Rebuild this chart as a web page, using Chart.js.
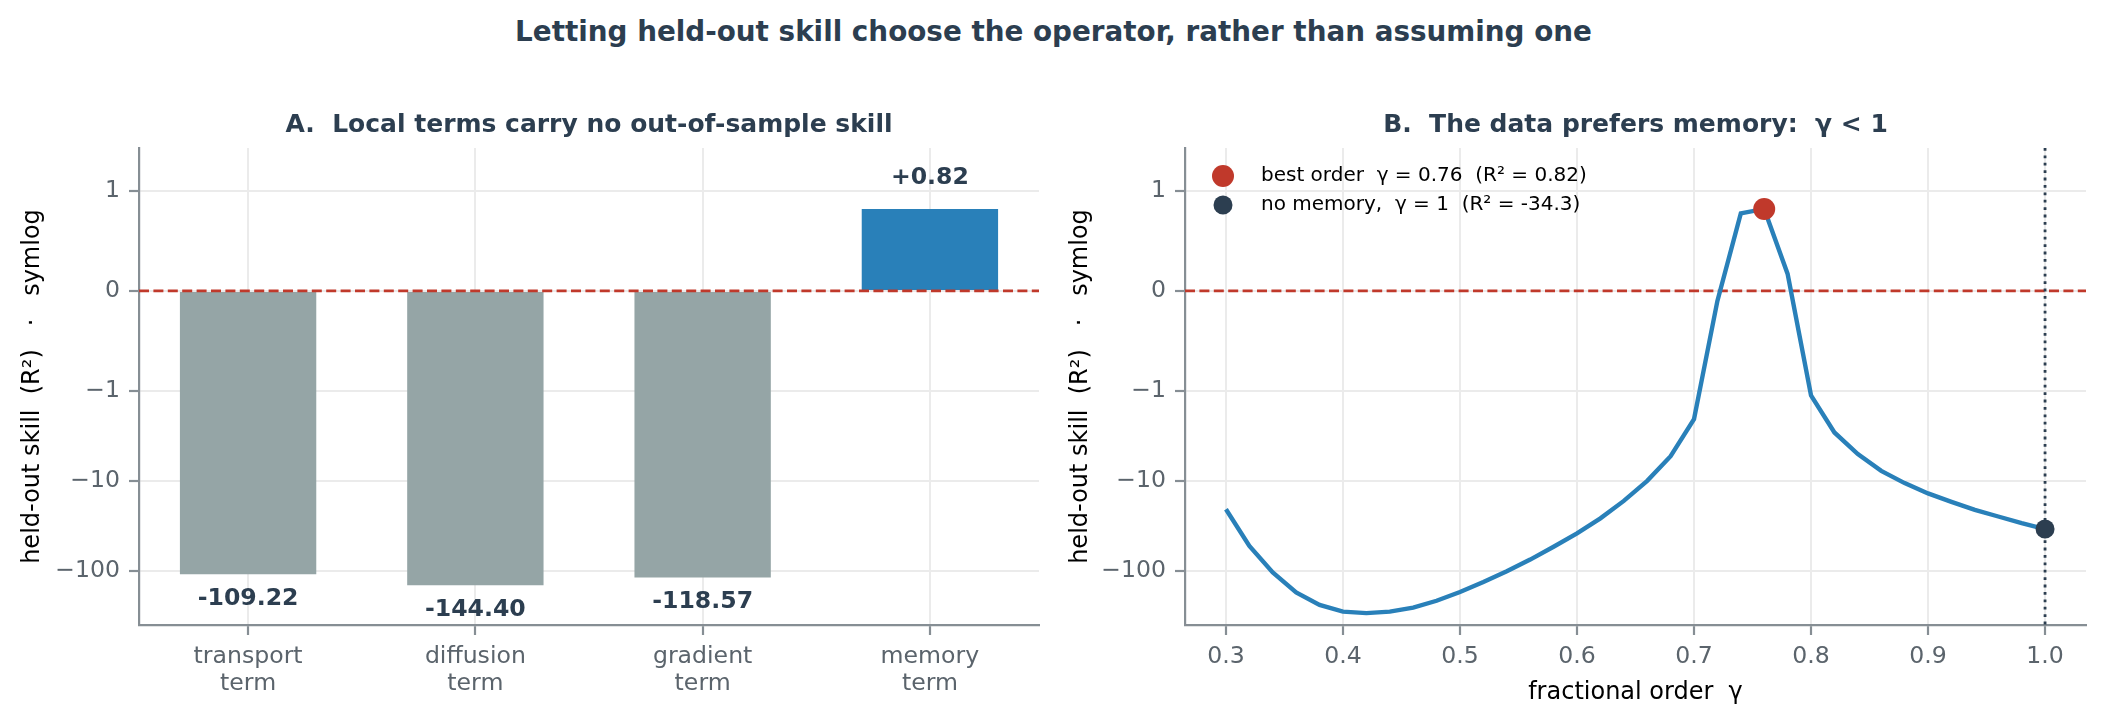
<!DOCTYPE html>
<html>
<head>
<meta charset="utf-8">
<script src="https://cdn.jsdelivr.net/npm/chart.js@4.4.1/dist/chart.umd.min.js"></script>
<style>
html, body { margin: 0; padding: 0; background: #fff; }
#fig { position: relative; width: 2107px; height: 724px; overflow: hidden; }
#suptitle { position: absolute; left: 0; top: 15px; width: 2107px; text-align: center;
  font: bold 27.8px 'DejaVu Sans'; color: #2c3e50; line-height: 34px; }
canvas { position: absolute; top: 0; }
</style>
</head>
<body>
<div id="fig">
  <div id="suptitle">Letting held-out skill choose the operator, rather than assuming one</div>
  <canvas id="panelA" width="1050" height="724" style="left:0px"></canvas>
  <canvas id="panelB" width="1057" height="724" style="left:1050px"></canvas>
</div>
<script>
// panel A: held-out R² of each single term
const termNames = ['transport term', 'diffusion term', 'gradient term', 'memory term'];
const termSkill = [-109.22, -144.40, -118.57, 0.82];

// panel B: held-out R² against fractional order
const gammaGrid = [0.30, 0.32, 0.34, 0.36, 0.38, 0.40, 0.42, 0.44, 0.46, 0.48,
                   0.50, 0.52, 0.54, 0.56, 0.58, 0.60, 0.62, 0.64, 0.66, 0.68,
                   0.70, 0.72, 0.74, 0.76, 0.78, 0.80, 0.82, 0.84, 0.86, 0.88,
                   0.90, 0.92, 0.94, 0.96, 0.98, 1.00];
const gammaSkill = [-20.7, -53, -104, -174, -239, -284, -295, -284, -256, -215,
                    -172, -133, -101, -75, -54, -38.4, -26.1, -16.7, -10.0, -5.33,
                    -2.06, -0.10, 0.775, 0.82, 0.17, -1.12, -2.90, -5.05, -7.74, -10.6,
                    -13.8, -17.1, -21.0, -24.9, -29.5, -34.3];

// highlighted points: best order, no memory
const markerGamma = [0.76, 1.0];
const markerSkill = [0.82, -34.3];
const markerLabels = ['best order  γ = 0.76  (R² = 0.82)', 'no memory,  γ = 1  (R² = -34.3)'];

const yTickValues = [-100, -10, -1, 0, 1];
const xTickValues = [0.3, 0.4, 0.5, 0.6, 0.7, 0.8, 0.9, 1.0];
const yLimits = [-400, 3];

const INK = '#2c3e50', RED = '#c0392b', BLUE = '#2980b9', GREY = '#95a5a6';
const GRID = '#ebebeb', SPINE = '#868e94', TICK = '#5b646c';
const FONT = "'DejaVu Sans'";

// matplotlib-style symlog, linthresh 1, linscale 1
const LIN_ADJ = 1 / (1 - 1 / 10);
const symlog = v => Math.abs(v) <= 1 ? v * LIN_ADJ : Math.sign(v) * (LIN_ADJ + Math.log10(Math.abs(v)));
const fmtTick = v => (v < 0 ? '\u2212' : '') + Math.abs(v);

Chart.defaults.font.family = FONT;
Chart.defaults.animation = false;

function yAxis(axisWidth, titlePad) {
    return {
        type: 'linear',
        min: symlog(yLimits[0]),
        max: symlog(yLimits[1]),
        afterBuildTicks: s => { s.ticks = yTickValues.map(v => ({ value: symlog(v) })); },
        afterFit: s => { s.width = axisWidth; },
        ticks: { callback: (val, i) => fmtTick(yTickValues[i]), color: TICK, font: { size: 23.6 }, padding: 9 },
        grid: { color: GRID, lineWidth: 2, tickLength: 10, tickColor: SPINE, tickWidth: 2.2 },
        border: { color: SPINE, width: 2.2 },
        title: { display: true, text: 'held-out skill  (R²)   ·   symlog', color: '#000',
                 font: { size: 24 }, padding: { top: titlePad, bottom: 0 } }
    };
}

function panelTitle(text) {
    return { display: true, text, color: INK, fullSize: false,
             font: { size: 25, weight: 'bold' }, padding: { top: 110, bottom: 8 } };
}

function refLines(chart, withVertical) {
    const { ctx, chartArea: a, scales: { x, y } } = chart;
    ctx.save();
    ctx.lineWidth = 2.8;
    ctx.strokeStyle = RED;
    ctx.setLineDash([10, 4.4]);
    const y0 = y.getPixelForValue(symlog(0));
    ctx.beginPath(); ctx.moveTo(a.left, y0); ctx.lineTo(a.right, y0); ctx.stroke();
    if (withVertical) {
        ctx.strokeStyle = INK;
        ctx.setLineDash([2.8, 4.6]);
        const x1 = x.getPixelForValue(markerGamma[1]);
        ctx.beginPath(); ctx.moveTo(x1, a.top); ctx.lineTo(x1, a.bottom); ctx.stroke();
    }
    ctx.restore();
}

const zeroLineA = { id: 'zeroLineA', afterDatasetsDraw: c => refLines(c, false) };
const refLinesB = { id: 'refLinesB', beforeDatasetsDraw: c => refLines(c, true) };

const barLabels = {
    id: 'barLabels',
    afterDatasetsDraw(chart) {
        const { ctx, scales: { x, y } } = chart;
        ctx.save();
        ctx.font = 'bold 23.6px ' + FONT;
        ctx.fillStyle = INK;
        ctx.textAlign = 'center';
        termSkill.forEach((v, i) => {
            const px = x.getPixelForValue(i);
            const py = y.getPixelForValue(symlog(v));
            const txt = v > 0 ? '+' + v.toFixed(2) : v.toFixed(2);
            ctx.fillText(txt, px, v > 0 ? py - 24.5 : py + 31);
        });
        ctx.restore();
    }
};

const markerLegend = {
    id: 'markerLegend',
    afterDraw(chart) {
        const { ctx, chartArea: a } = chart;
        const colors = [RED, INK], radii = [11, 9.5];
        ctx.save();
        ctx.font = '20px ' + FONT;
        ctx.textBaseline = 'middle';
        markerLabels.forEach((txt, i) => {
            const cy = a.top + 28 + i * 29;
            ctx.fillStyle = colors[i];
            ctx.beginPath(); ctx.arc(a.left + 38, cy, radii[i], 0, Math.PI * 2); ctx.fill();
            ctx.fillStyle = '#000';
            ctx.fillText(txt, a.left + 76, cy);
        });
        ctx.restore();
    }
};

new Chart(document.getElementById('panelA'), {
    type: 'bar',
    data: {
        datasets: [{
            data: termSkill.map((v, i) => ({ x: i, y: symlog(v) })),
            backgroundColor: termSkill.map(v => v > 0 ? BLUE : GREY),
            barPercentage: 0.6,
            categoryPercentage: 1
        }]
    },
    options: {
        responsive: false,
        layout: { padding: { left: 0, right: 11, top: 0, bottom: 0 } },
        plugins: { legend: { display: false }, tooltip: { enabled: false },
                   title: panelTitle('A.  Local terms carry no out-of-sample skill') },
        scales: {
            x: {
                type: 'linear',
                min: -0.48, max: 3.48,
                offset: false,
                afterBuildTicks: s => { s.ticks = termNames.map((n, i) => ({ value: i })); },
                afterFit: s => { s.height = 99; },
                ticks: { callback: (val, i) => termNames[i].split(' '), color: TICK,
                         font: { size: 23.6, lineHeight: 1.15 }, padding: 8, maxRotation: 0, autoSkip: false },
                grid: { color: GRID, lineWidth: 2, tickLength: 10, tickColor: SPINE, tickWidth: 2.2, offset: false },
                border: { color: SPINE, width: 2.2 }
            },
            y: yAxis(139, 18.2)
        }
    },
    plugins: [zeroLineA, barLabels]
});

new Chart(document.getElementById('panelB'), {
    type: 'line',
    data: {
        datasets: [
            {
                data: markerGamma.map((g, i) => ({ x: g, y: symlog(markerSkill[i]) })),
                showLine: false,
                pointRadius: [11, 9.5],
                pointBackgroundColor: [RED, INK],
                pointBorderWidth: 0,
                order: 0
            },
            {
                data: gammaGrid.map((g, i) => ({ x: g, y: symlog(gammaSkill[i]) })),
                borderColor: BLUE,
                borderWidth: 4.4,
                pointRadius: 0,
                tension: 0,
                order: 1
            }
        ]
    },
    options: {
        responsive: false,
        layout: { padding: { left: 0, right: 21, top: 0, bottom: 0 } },
        plugins: { legend: { display: false }, tooltip: { enabled: false },
                   title: panelTitle('B.  The data prefers memory:  γ < 1') },
        scales: {
            x: {
                type: 'linear',
                min: 0.265, max: 1.035,
                afterBuildTicks: s => { s.ticks = xTickValues.map(v => ({ value: v })); },
                afterFit: s => { s.height = 99; },
                ticks: { callback: (val, i) => xTickValues[i].toFixed(1), color: TICK,
                         font: { size: 23.6 }, padding: 8, maxRotation: 0, autoSkip: false },
                grid: { color: GRID, lineWidth: 2, tickLength: 10, tickColor: SPINE, tickWidth: 2.2 },
                border: { color: SPINE, width: 2.2 },
                title: { display: true, text: 'fractional order  γ', color: '#000',
                         font: { size: 24 }, padding: { top: 0, bottom: 16.6 } }
            },
            y: yAxis(135, 16.2)
        }
    },
    plugins: [refLinesB, markerLegend]
});
</script>
</body>
</html>
